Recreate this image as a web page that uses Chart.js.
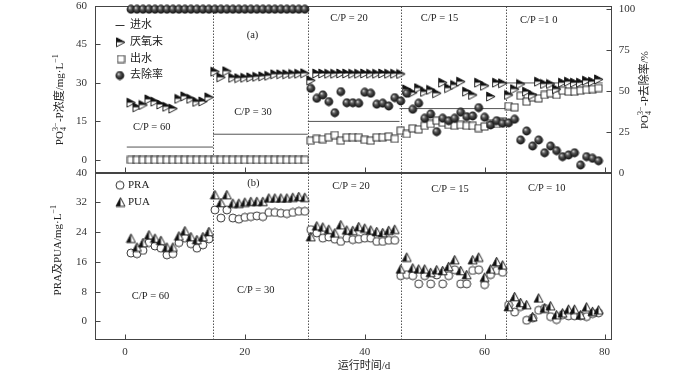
<!DOCTYPE html>
<html><head><meta charset="utf-8">
<script src="https://cdn.jsdelivr.net/npm/chart.js@4.4.1/dist/chart.umd.min.js"></script>
<style>
html,body{margin:0;padding:0;background:#fff;overflow:hidden;}
#wrap{position:relative;width:700px;height:374px;background:#fff;overflow:hidden;}
#wrap canvas{position:absolute;left:0;}
</style></head><body>
<div id="wrap"><canvas id="topc" width="700" height="394" style="width:700px;height:394px;top:-20px"></canvas><canvas id="botc" width="700" height="374" style="width:700px;height:374px;top:0"></canvas></div>
<script>
// ---------------- DATA ----------------
const days = [1,2,3,4,5,6,7,8,9,10,11,12,13,14,15,16,17,18,19,20,21,22,23,24,25,26,27,28,29,30,
  31,32,33,34,35,36,37,38,39,40,41,42,43,44,45,46,47,48,49,50,51,52,53,54,55,56,57,58,59,60,
  61,62,63,64,65,66,67,68,69,70,71,72,73,74,75,76,77,78,79];

// (a) PO4-P, mg/L
const anaerobicEnd = [22.3,20.5,21.4,23.6,22.7,21.6,20.7,20.0,23.8,24.8,23.8,22.6,22.8,24.4,
  34.4,32.2,34.6,32.0,31.9,32.0,32.2,32.4,32.6,32.8,33.4,33.4,33.4,33.5,33.6,33.8,
  31.0,33.7,33.7,33.6,33.6,33.7,33.7,33.6,33.6,33.7,33.6,33.6,33.7,33.6,33.6,33.5,
  27.5,26.2,28.0,26.5,27.3,26.0,30.1,28.0,29.2,30.5,26.6,25.3,30.1,28.9,24.7,30.1,29.9,
  25.3,27.6,29.6,26.6,25.3,30.5,29.6,29.6,27.6,30.1,30.5,30.1,30.1,30.9,30.5,31.4];
const effluent = [0,0,0,0,0,0,0,0,0,0,0,0,0,0,0,0,0,0,0,0,0,0,0,0,0,0,0,0,0,0,
  7.5,8.2,8.1,8.8,9.7,7.5,8.8,8.8,8.8,7.8,7.5,8.8,8.8,9.1,8.2,11.4,
  10.1,12.3,11.9,13.3,14.0,15.3,14.5,13.6,13.3,13.6,13.3,13.3,12.4,13.0,14.0,14.0,14.9,
  21.0,20.5,25.0,22.7,24.4,24.0,25.3,26.0,25.3,27.0,26.6,26.6,27.0,27.3,27.6,28.0];
const removal = [100,100,100,100,100,100,100,100,100,100,100,100,100,100,100,100,100,100,100,100,100,100,100,100,100,100,100,100,100,100,
  51.6,45.5,47.6,43.5,36.7,49.6,42.8,42.8,42.5,49.2,48.6,41.9,42.5,40.8,45.9,43.9,
  48.6,38.8,42.5,33.3,35.9,25.1,33.3,31.8,33.3,37.0,34.3,34.7,39.8,33.9,29.2,31.8,30.2,30.5,32.7,
  20.0,25.5,16.3,20.0,12.2,16.3,13.5,9.8,10.8,12.2,4.7,9.8,8.8,7.3];
// influent: constant level per C/P stage
const influentStart = [0.3,14.7,30.5,45.8,63.4];
const influentEnd   = [14.7,30.5,45.8,63.4,79.7];
const influentLevel = [5,10,15,20,30];

// (b) PRA / PUA, mg/L
const PRA = [18.4,18.2,19.1,21.2,20.3,19.7,17.9,18.2,21.2,22.4,20.9,19.7,20.6,22.2,
  30.0,27.8,30.0,27.8,27.5,28.0,28.2,28.4,28.2,29.3,29.3,29.1,29.0,29.3,29.6,29.6,
  24.7,23.8,22.4,22.7,22.1,21.5,22.4,22.0,22.1,22.4,22.4,21.5,21.5,21.8,21.8,
  12.3,12.6,12.3,10.1,12.3,10.1,12.5,10.1,12.3,13.9,10.1,10.1,13.7,13.9,9.9,12.6,13.7,13.2,
  4.4,2.5,4.0,0.3,0.9,3.0,3.5,1.3,0.5,1.8,1.5,1.5,1.5,1.3,2.1,2.3];
const PUA = [22.4,20.0,21.2,23.3,22.4,21.8,20.0,20.0,23.0,24.4,22.8,22.0,22.8,24.2,
  34.1,32.0,34.1,31.8,31.8,32.1,32.3,32.3,32.3,33.2,33.2,33.2,33.2,33.4,33.6,33.4,
  22.8,25.7,25.4,24.8,23.8,26.0,24.6,24.5,25.5,25.1,24.6,24.2,23.9,24.5,24.8,
  14.1,17.3,14.4,14.1,14.1,13.2,13.9,13.7,14.8,16.6,13.7,12.6,16.6,17.3,11.9,14.1,16.1,15.2,
  4.0,6.7,5.1,4.5,1.3,6.3,3.6,4.2,1.8,2.3,3.3,3.3,1.8,3.9,2.7,3.1];

const stageBounds = [14.7, 30.5, 46.1, 63.5];
const xTicks = [0,20,40,60,80];
const leftTicksA = [0,15,30,45,60];
const rightTicksA = [0,25,50,75,100];
const leftTicksB = [0,8,16,24,32,40];
const cpLabelsA = ['C/P = 60','C/P = 30','C/P = 20','C/P = 15','C/P =1 0'];
const cpLabelsB = ['C/P = 60','C/P = 30','C/P = 20','C/P = 15','C/P = 10'];

// ---------------- STYLE ----------------
const FONT = "'Liberation Serif','Noto Sans CJK SC',serif";
const TEXT = '#222';
const FRAME = '#444';
const TOP_OFF = 20; // top canvas is shifted up by this amount
function fnt(sz){return sz+'px '+FONT;}
function mk(w,h,draw){const c=document.createElement('canvas');c.width=w;c.height=h;draw(c.getContext('2d'));return c;}

const triR = mk(11,11,g=>{
  g.lineWidth=0.9; g.strokeStyle='#111';
  g.fillStyle='#fff'; g.beginPath(); g.moveTo(1.5,5.5); g.lineTo(10,5.5); g.lineTo(1.5,10); g.closePath(); g.fill();
  g.fillStyle='#111'; g.beginPath(); g.moveTo(1.5,1); g.lineTo(10,5.5); g.lineTo(1.5,5.5); g.closePath(); g.fill();
  g.beginPath(); g.moveTo(1.5,1); g.lineTo(10,5.5); g.lineTo(1.5,10); g.closePath(); g.stroke();
});
const triU = mk(11,11,g=>{
  g.lineWidth=0.9; g.strokeStyle='#111';
  g.fillStyle='#fff'; g.beginPath(); g.moveTo(5.5,1.2); g.lineTo(10,9.8); g.lineTo(5.5,9.8); g.closePath(); g.fill();
  g.fillStyle='#111'; g.beginPath(); g.moveTo(5.5,1.2); g.lineTo(5.5,9.8); g.lineTo(1,9.8); g.closePath(); g.fill();
  g.beginPath(); g.moveTo(5.5,1.2); g.lineTo(10,9.8); g.lineTo(1,9.8); g.closePath(); g.stroke();
});
const sq = mk(9,9,g=>{g.fillStyle='#fff'; g.fillRect(1,1,7,7); g.strokeStyle='#222'; g.lineWidth=0.9; g.strokeRect(1,1,7,7);});
const ball = mk(10,10,g=>{
  const gr=g.createRadialGradient(3.6,3.4,0.2,5,5,4.8);
  gr.addColorStop(0,'#d8d8d8'); gr.addColorStop(0.35,'#555'); gr.addColorStop(1,'#050505');
  g.fillStyle=gr; g.beginPath(); g.arc(5,5,4.4,0,Math.PI*2); g.fill();
});
const ring = mk(10,10,g=>{g.fillStyle='#fff'; g.strokeStyle='#222'; g.lineWidth=0.9; g.beginPath(); g.arc(5,5,4.0,0,Math.PI*2); g.fill(); g.stroke();});

function pts(vals){return days.map((d,i)=>({x:d,y:vals[i]}));}
function influentPts(){
  const out=[];
  influentLevel.forEach((v,i)=>{
    out.push({x:influentStart[i],y:v}); out.push({x:influentEnd[i],y:v});
    if(i<influentLevel.length-1) out.push({x:influentEnd[i],y:null});
  });
  return out;
}

function drawRich(ctx, parts, cx, cy, rot, size){
  const small = Math.round(size*0.72);
  let w=0; const items=[];
  parts.forEach(p=>{
    if(typeof p==='string'){ctx.font=fnt(size); items.push({t:p,x:w,dy:0,f:fnt(size)}); w+=ctx.measureText(p).width;}
    else { ctx.font=fnt(small); let mw=0;
      if(p.sub){items.push({t:p.sub,x:w,dy:size*0.32,f:fnt(small)}); mw=Math.max(mw,ctx.measureText(p.sub).width);}
      if(p.sup){items.push({t:p.sup,x:w,dy:-size*0.36,f:fnt(small)}); mw=Math.max(mw,ctx.measureText(p.sup).width);}
      w+=mw+0.5; }
  });
  ctx.save(); ctx.translate(cx,cy); ctx.rotate(rot); ctx.textBaseline='middle'; ctx.textAlign='left'; ctx.fillStyle=TEXT;
  items.forEach(it=>{ctx.font=it.f; ctx.fillText(it.t, it.x - w/2, it.dy);});
  ctx.restore();
}
function txt(ctx,t,x,y,size,align){ctx.font=fnt(size);ctx.fillStyle=TEXT;ctx.textAlign=align||'center';ctx.textBaseline='middle';ctx.fillText(t,x,y);}

function framePlugin(cfg){
  return {
    id:'frame'+cfg.name,
    beforeDatasetsDraw(chart){
      const {ctx, chartArea:a, scales} = chart;
      const L=Math.round(a.left)+0.5, R=Math.round(a.right)-0.5, T=Math.round(a.top)+0.5, B=Math.round(a.bottom)-0.5;
      ctx.save();
      ctx.strokeStyle='#555'; ctx.lineWidth=1; ctx.setLineDash([1.5,1.5]);
      stageBounds.forEach(b=>{const x=Math.round(scales.x.getPixelForValue(b))+0.5; ctx.beginPath(); ctx.moveTo(x,T); ctx.lineTo(x,B); ctx.stroke();});
      ctx.setLineDash([]);
      ctx.strokeStyle=FRAME; ctx.lineWidth=1;
      ctx.strokeRect(L,T,R-L,B-T);
      ctx.beginPath();
      xTicks.forEach(v=>{const x=Math.round(scales.x.getPixelForValue(v))+0.5; ctx.moveTo(x,B); ctx.lineTo(x,B-5);});
      cfg.leftTicks.forEach(v=>{const y=Math.round(scales.y.getPixelForValue(v))+0.5; ctx.moveTo(L,y); ctx.lineTo(L+5,y);});
      if(cfg.rightTicks) cfg.rightTicks.forEach(v=>{const y=Math.round(scales.y2.getPixelForValue(v))+0.5; ctx.moveTo(R,y); ctx.lineTo(R-5,y);});
      ctx.stroke();
      ctx.restore();
    },
    afterDatasetsDraw(chart){
      const {ctx} = chart;
      ctx.save();
      ctx.translate(0, cfg.off||0);
      cfg.draw(ctx, chart);
      ctx.restore();
    }
  };
}

const tickFont = {family:FONT, size:11};
function yScale(pos,min,max,ticks,pad){
  return {position:pos,min:min,max:max,
    afterFit:s=>{s.width = pos==='left'?95:88.3;},
    afterBuildTicks:s=>{s.ticks=ticks.map(v=>({value:v}));},
    grid:{display:false,drawTicks:false}, border:{display:false},
    ticks:{font:tickFont,color:'#333',padding:pad}};
}

// ---------------- TOP PANEL (a) ----------------
new Chart(document.getElementById('topc'), {
  type:'scatter',
  data:{datasets:[
    {label:'去除率', data:pts(removal), yAxisID:'y2', pointStyle:ball, pointRadius:4, order:0, clip:false},
    {label:'厌氧末', data:pts(anaerobicEnd), yAxisID:'y', pointStyle:triR, pointRadius:4, order:1, clip:false},
    {label:'出水', data:pts(effluent), yAxisID:'y', pointStyle:sq, pointRadius:4, order:2, clip:false},
    {label:'进水', data:influentPts(), yAxisID:'y', showLine:true, spanGaps:false, borderColor:'#555', borderWidth:1, pointRadius:0, order:3}
  ]},
  options:{
    responsive:false, animation:false, devicePixelRatio:1, events:[],
    layout:{padding:{top:6+TOP_OFF,bottom:201.3,left:0,right:0}},
    plugins:{legend:{display:false},tooltip:{enabled:false}},
    scales:{
      x:{type:'linear',display:false,min:-5,max:81.2},
      y:yScale('left',-5,60,leftTicksA,8),
      y2:yScale('right',0,102,rightTicksA,7)
    }
  },
  plugins:[framePlugin({name:'a', off:TOP_OFF, leftTicks:leftTicksA, rightTicks:rightTicksA, draw(ctx){
    txt(ctx,cpLabelsA[0],151.7,127.7,10.5);
    txt(ctx,cpLabelsA[1],253,112.3,10.5);
    txt(ctx,cpLabelsA[2],349,18,10.5);
    txt(ctx,cpLabelsA[3],439.5,18.3,10.5);
    txt(ctx,cpLabelsA[4],538.7,20,10.5);
    txt(ctx,'(a)',252.5,35.3,10.5);
    ctx.strokeStyle='#333'; ctx.lineWidth=1; ctx.beginPath(); ctx.moveTo(115.5,25.5); ctx.lineTo(124.5,25.5); ctx.stroke();
    ctx.drawImage(triR,120.5-5.5,42.2-5.5); ctx.drawImage(sq,121-4.5,59-4.5); ctx.drawImage(ball,119.8-5,75.5-5);
    txt(ctx,'进水',130,25.5,11,'left'); txt(ctx,'厌氧末',130,42.3,11,'left'); txt(ctx,'出水',130,59,11,'left'); txt(ctx,'去除率',130,75.5,11,'left');
    drawRich(ctx,['PO',{sub:'4',sup:'3−'},'-P浓度/mg·L',{sup:'−1'}],60,99.5,-Math.PI/2,11);
    drawRich(ctx,['PO',{sub:'4',sup:'3−'},'-P去除率/%'],645,90,-Math.PI/2,11);
  }})]
});

// ---------------- BOTTOM PANEL (b) ----------------
new Chart(document.getElementById('botc'), {
  type:'scatter',
  data:{datasets:[
    {label:'PUA', data:pts(PUA), pointStyle:triU, pointRadius:4, order:0, clip:false},
    {label:'PRA', data:pts(PRA), pointStyle:ring, pointRadius:4, order:1, clip:false}
  ]},
  options:{
    responsive:false, animation:false, devicePixelRatio:1, events:[],
    layout:{padding:{top:172.7,bottom:0,left:0,right:88.3}},
    plugins:{legend:{display:false},tooltip:{enabled:false}},
    scales:{
      x:{type:'linear',position:'bottom',min:-5,max:81.2,
        afterFit:s=>{s.height=34;},
        afterBuildTicks:s=>{s.ticks=xTicks.map(v=>({value:v}));},
        grid:{display:false,drawTicks:false}, border:{display:false},
        ticks:{font:tickFont,color:'#333',padding:6,maxRotation:0}},
      y:yScale('left',-5,40,leftTicksB,8)
    }
  },
  plugins:[framePlugin({name:'b', off:0, leftTicks:leftTicksB, rightTicks:null, draw(ctx){
    txt(ctx,cpLabelsB[0],150.5,296,10.5);
    txt(ctx,cpLabelsB[1],255.7,290.7,10.5);
    txt(ctx,cpLabelsB[2],351,186.7,10.5);
    txt(ctx,cpLabelsB[3],450,189.3,10.5);
    txt(ctx,cpLabelsB[4],546.7,188.3,10.5);
    txt(ctx,'(b)',253.3,183.3,10.5);
    ctx.drawImage(ring,120-5,185.3-5); ctx.drawImage(triU,120.5-5.5,202-5.5);
    txt(ctx,'PRA',128,185.3,11,'left'); txt(ctx,'PUA',128,202,11,'left');
    drawRich(ctx,['PRA及PUA/mg·L',{sup:'−1'}],58,250,-Math.PI/2,11);
    txt(ctx,'运行时间/d',364,366,11);
  }})]
});
</script>
</body></html>
